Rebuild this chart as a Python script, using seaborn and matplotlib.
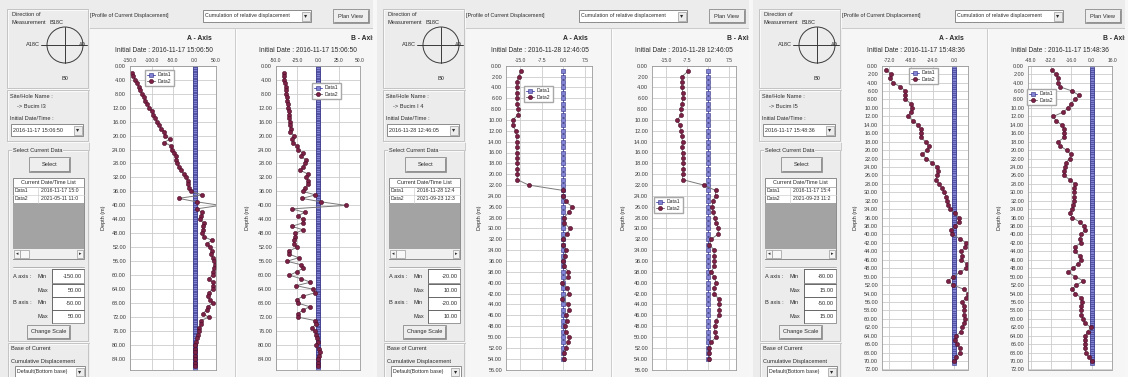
import numpy as np
import pandas as pd
import matplotlib
matplotlib.use('Agg')
import matplotlib.pyplot as plt
import seaborn as sns
from matplotlib.patches import Rectangle, Ellipse
from matplotlib.lines import Line2D
from matplotlib.ticker import FormatStrFormatter

sns.set_style('white')
plt.rcParams['font.family'] = ['Liberation Sans', 'DejaVu Sans']

# ---------------------------------------------------------------- data
site_names = ['-> Bucim I3', '-> Bucim I 4', '-> Bucim I5']
initial_dates = ['2016-11-17 15:06:50', '2016-11-28 12:46:05', '2016-11-17 15:48:36']
data1_dates = ['2016-11-17 15:0', '2016-11-28 12:4', '2016-11-17 15:4']
data2_dates = ['2021-05-11 11:0', '2021-09-23 12:3', '2021-09-23 11:2']
a_min_text = ['-150.00', '-20.00', '-80.00']
a_max_text = ['50.00', '10.00', '15.00']
b_min_text = ['-50.00', '-20.00', '-50.00']
b_max_text = ['50.00', '10.00', '15.00']

a_limits = [(-150, 50), (-20, 10), (-80, 15)]
b_limits = [(-50, 50), (-20, 10), (-50, 16)]
a_ticks = [[-150, -100, -50, 0, 50], [-15, -7.5, 0, 7.5], [-72, -48, -24, 0]]
b_ticks = [[-50, -25, 0, 25, 50], [-15, -7.5, 0, 7.5], [-48, -32, -16, 0, 16]]
depth_max = [87, 56, 72]
depth_tick_step = [4, 2, 2]

# Data1 (reference reading, zero displacement) stations
data1_depths = [np.arange(0.5, 86.6, 0.5), np.arange(1, 55, 1), np.arange(0.5, 70.6, 0.5)]

# Data2 stations (1 m) and readings
data2_depths = [np.arange(2, 87), np.arange(1, 55), np.arange(1, 71)]

p1_a = [-146, -142, -138, -134, -130, -127, -123, -118, -114, -110,
        -105, -100, -96, -92, -88, -83, -77, -70, -68, -58,
        -70, -54, -52, -47, -44, -42, -41, -36, -31, -25,
        -19, -16, -15, -13, -8, 18, -37, 6, 60, 5,
        17, 15, 12, 21, 20, 20, 17, 23, 40, 28,
        35, 40, 38, 42, 46, 48, 46, 42, 42, 33,
        42, 44, 42, 33, 31, 35, 42, 31, 28, 19,
        33, 15, 14, 11, 10, 8, 6, 4, 0, 2,
        1.5, 1, 1, 0, 0]
p1_b = [-41, -40, -40, -39, -38, -38, -38, -37, -37, -36,
        -36, -35, -34, -34, -33, -33, -32, -33, -29, -31,
        -30, -25, -24, -18, -20, -14, -16, -18, -21, -12,
        -14, -12, -12, -16, -18, -3, -19, 4, 33, -31,
        -16, -24, -18, -18, -31, -18, -27, -27, -28, -29,
        -25, -34, -34, -23, -37, -20, -18, -25, -34, -20,
        -9, -26, -6, -3, -18, -25, -24, -10, -18, -24,
        -24, -3, -2, -7, -4, -2, -1, 0, -2, 1,
        2, 1, 0, 0, 0]
p2_a = [-14.8, -15.6, -16.2, -16.2, -16.2, -16.3, -16.0, -15.7, -15.7, -17.6,
        -17.7, -16.6, -16.3, -16.2, -16.2, -16.2, -16.1, -16.0, -16.0, -16.0,
        -16.1, -12.1, 0.0, 0.0, 0.8, 3.0, 2.0, 0.2, 0.3, 2.3,
        1.3, 0.0, 0.0, 1.0, 0.5, 0.0, 0.3, 1.8, 1.8, -0.5,
        1.3, 2.0, -0.5, 1.8, 2.0, 1.1, 1.2, 0.7, 0.8, 2.0,
        1.8, 0.8, 0.2, 0.1]
p2_b = [-7.1, -9.3, -9.3, -9.3, -9.0, -8.9, -9.3, -9.8, -9.5, -10.9,
        -10.1, -9.5, -9.4, -9.1, -9.3, -9.1, -9.1, -8.8, -8.8, -9.0,
        -9.1, -1.5, 2.7, 2.7, 1.7, 1.5, 1.8, 2.4, 2.9, 3.7,
        3.7, 1.1, 0.5, 2.2, 2.2, 2.2, 2.2, 1.1, 2.2, 2.9,
        2.2, 2.2, 3.8, 3.9, 4.1, 3.8, 2.9, 2.4, 2.4, 2.9,
        1.1, 0.5, 0.5, 0.5]
p3_a = [-75.6, -70.0, -70.7, -68.1, -59.6, -54.4, -54.4, -54.1, -47.8, -47.0,
        -48.5, -51.5, -45.9, -40.4, -37.4, -37.4, -37.0, -31.9, -28.5, -30.0,
        -35.6, -31.1, -24.8, -18.9, -18.1, -18.9, -20.7, -17.0, -13.7, -11.5,
        -8.9, -7.8, -7.0, -4.4, 0.4, 5.2, 4.8, 1.1, -4.1, -2.2,
        5.9, 13.3, 11.5, 7.8, 8.5, 7.8, 14.1, 13.3, 5.9, -1.1,
        -7.0, -1.5, 10.7, 14.8, 13.3, 8.5, 10.7, 10.4, 10.4, 11.5,
        10.7, 8.5, 7.0, 2.2, 0.4, 3.3, 5.9, 5.9, 2.2, -0.4]
p3_b = [-31.3, -28.2, -26.7, -26.7, -24.9, -15.4, -10.0, -12.8, -16.4, -18.5,
        -22.3, -30.0, -28.2, -23.6, -21.5, -21.8, -21.5, -26.2, -24.9, -19.7,
        -16.4, -17.2, -20.3, -21.0, -21.8, -21.8, -17.2, -13.3, -13.8, -13.8,
        -13.8, -13.8, -14.6, -15.4, -17.2, -15.1, -9.5, -6.2, -5.6, -8.2,
        -9.5, -8.7, -13.3, -13.3, -9.5, -8.7, -10.8, -14.6, -18.5, -12.8,
        -6.4, -12.1, -15.4, -12.8, -8.2, -7.2, -8.2, -8.2, -8.2, -6.9,
        -5.6, -0.5, -3.1, -4.9, -5.6, -5.6, -5.6, -4.4, -2.3, 0.0]
data2_a = [p1_a, p2_a, p3_a]
data2_b = [p1_b, p2_b, p3_b]

# legend anchor (upper-left, panel pixel coords) for A / B charts
legend_a = [(145, 70), (148, 86), (157, 68)]
legend_b = [(312, 83), (278, 197), (275, 89)]

# ---------------------------------------------------------------- figure helpers
W, H = 1128, 377
fig = plt.figure(figsize=(W / 100, H / 100), dpi=100)
BG = '#ececec'
TXT = '#2b2b2b'


def R(x0, y0, x1, y1, fc='none', ec='none', lw=0.6, z=1):
    fig.add_artist(Rectangle((x0 / W, 1 - y1 / H), (x1 - x0) / W, (y1 - y0) / H,
                             transform=fig.transFigure, facecolor=fc, edgecolor=ec,
                             lw=lw, zorder=z))


def L(xs, ys, c='#808080', lw=0.6, z=2):
    fig.add_artist(Line2D([x / W for x in xs], [1 - y / H for y in ys],
                          transform=fig.transFigure, color=c, lw=lw, zorder=z))


def T(x, y, s, size=4.1, ha='left', va='center', z=3, **kw):
    kw.setdefault('color', TXT)
    fig.text(x / W, 1 - y / H, s, fontsize=size, ha=ha, va=va, zorder=z, **kw)


def G(x0, y0, x1, y1, label=None):
    R(x0 + 0.8, y0 + 0.8, x1 + 0.8, y1 + 0.8, ec='#ffffff', lw=0.5, z=0.5)
    R(x0, y0, x1, y1, ec='#bdbdbd', lw=0.6, z=1)
    if label:
        T(x0 + 5, y0, label, bbox=dict(fc=BG, ec='none', pad=0.4))


def BTN(x0, y0, x1, y1, label):
    R(x0, y0, x1, y1, fc='#eeeeee', ec='#8a8a8a', lw=0.6, z=1)
    L([x0 + 0.8, x1 - 0.8], [y1 - 0.9, y1 - 0.9], '#6a6a6a', 0.5)
    L([x1 - 0.9, x1 - 0.9], [y0 + 0.8, y1 - 0.8], '#6a6a6a', 0.5)
    T((x0 + x1) / 2, (y0 + y1) / 2, label, ha='center')


def DD(x0, y0, x1, y1, label, size=3.9):
    R(x0, y0, x1, y1, fc='white', ec='#7a7a7a', z=1)
    R(x1 - 9.5, y0 + 1.5, x1 - 1.5, y1 - 1.5, fc='#ececec', ec='#9a9a9a', lw=0.5, z=1.5)
    T(x1 - 5.5, (y0 + y1) / 2, '\u25BE', ha='center', size=4.5, family='DejaVu Sans')
    T(x0 + 2, (y0 + y1) / 2, label, size=size)


def ENT(x0, y0, x1, y1, val):
    R(x0, y0, x1, y1, fc='white', ec='#8a8a8a', z=1)
    L([x0, x1], [y0 + 0.4, y0 + 0.4], '#5a5a5a', 0.5)
    L([x0 + 0.4, x0 + 0.4], [y0, y1], '#5a5a5a', 0.5)
    T(x1 - 2, (y0 + y1) / 2, val, ha='right')


def style_axes(ax, xlim, xticks, dmax, dstep):
    ax.set_facecolor('white')
    ax.set_xlim(*xlim)
    ax.set_ylim(dmax, 0)
    ax.set_xticks(xticks)
    ax.set_yticks(np.arange(0, dmax + 0.01, dstep))
    ax.xaxis.set_major_formatter(FormatStrFormatter('%.1f'))
    ax.yaxis.set_major_formatter(FormatStrFormatter('%.2f'))
    ax.xaxis.tick_top()
    ax.tick_params(axis='x', length=0, pad=1.6, labelsize=3.6, colors='#3a3a3a')
    ax.tick_params(axis='y', length=0, pad=2.8, labelsize=4.0, colors='#3a3a3a')
    ax.grid(True, color='#cccccc', lw=0.6)
    ax.set_axisbelow(True)
    for s in ax.spines.values():
        s.set_color('#9a9a9a')
        s.set_linewidth(0.6)
    ax.set_xlabel('')
    ax.set_ylabel('')


def draw_profile(ax, d1, d2, vals):
    sns.lineplot(x=np.zeros(len(d1)), y=d1, orient='y', sort=False, estimator=None,
                 ax=ax, color='#5c5cb8', lw=0.7, marker='s', ms=3.0,
                 mfc='#8282d4', mec='#30307e', mew=0.4, label='Data1')
    sns.lineplot(x=vals, y=d2, orient='y', sort=False, estimator=None,
                 ax=ax, color='#7a7a7a', lw=0.7, marker='o', ms=3.0,
                 mfc='#7c2145', mec='#4a0f28', mew=0.4, label='Data2')


def add_legend(ax, pos):
    ax.legend(loc='upper left', bbox_to_anchor=(pos[0] / W, 1 - pos[1] / H),
              bbox_transform=fig.transFigure, fontsize=3.6, frameon=True,
              fancybox=False, edgecolor='#a8a8a8', framealpha=1,
              handlelength=1.6, borderpad=0.45, labelspacing=0.35,
              handletextpad=0.5, borderaxespad=0)


# ---------------------------------------------------------------- panels
for i in range(3):
    ox = 376 * i
    # backgrounds
    R(ox, 0, ox + 376, H, fc=BG, z=-10)
    R(ox + 89, 28, ox + 373, H + 2, fc='#f6f6f6', ec='#c4c4c4', lw=0.6, z=-9)
    L([ox + 235, ox + 235], [29, H], '#c4c4c4', 0.6, z=-8)
    L([ox + 236, ox + 236], [29, H], '#ffffff', 0.6, z=-8)

    # ---- left UI
    G(ox + 7, 9, ox + 88, 88)
    T(ox + 12, 15, 'Direction of')
    T(ox + 12, 22, 'Measurement')
    T(ox + 50, 22, 'B18C')
    fig.add_artist(Ellipse(((ox + 65) / W, 1 - 45 / H), 36 / W, 36 / H,
                           transform=fig.transFigure, fill=False, ec='#3a3a3a', lw=0.7, zorder=2))
    L([ox + 41, ox + 87], [45, 45], '#3a3a3a', 0.7)
    L([ox + 65, ox + 65], [27, 63], '#3a3a3a', 0.7)
    T(ox + 33, 45, 'A18C', ha='center')
    T(ox + 82, 44, 'A0', ha='center')
    T(ox + 65, 79, 'B0', ha='center')

    G(ox + 7, 90, ox + 88, 141)
    T(ox + 10, 97, 'Site/Hole Name :')
    T(ox + 17, 107, site_names[i])
    T(ox + 10, 118, 'Initial Date/Time :')
    DD(ox + 11, 124, ox + 83, 136, initial_dates[i])

    G(ox + 8, 150, ox + 88, 341, 'Select Current Data')
    BTN(ox + 29, 157, ox + 70, 172, 'Select')
    # table
    R(ox + 13, 178, ox + 84, 259, fc='white', ec='#7a7a7a', z=1)
    T(ox + 48.5, 182.5, 'Current Date/Time List', ha='center', size=4.0)
    L([ox + 13, ox + 84], [187, 187], '#9a9a9a', 0.5)
    L([ox + 13, ox + 84], [195, 195], '#d0d0d0', 0.5)
    L([ox + 38, ox + 38], [187, 203], '#d0d0d0', 0.5)
    T(ox + 15, 191, 'Data1', size=3.7)
    T(ox + 41, 191, data1_dates[i], size=3.7)
    T(ox + 15, 199, 'Data2', size=3.7)
    T(ox + 41, 199, data2_dates[i], size=3.7)
    R(ox + 13.3, 203, ox + 83.7, 249, fc='#a3a3a3', z=1.2)
    R(ox + 13.3, 249, ox + 83.7, 258.7, fc='#f0f0f0', z=1.2)
    R(ox + 14, 250, ox + 20, 258, fc='#f4f4f4', ec='#9a9a9a', lw=0.5, z=1.4)
    R(ox + 20, 250, ox + 29, 258, fc='#f8f8f8', ec='#9a9a9a', lw=0.5, z=1.4)
    R(ox + 77, 250, ox + 83, 258, fc='#f4f4f4', ec='#9a9a9a', lw=0.5, z=1.4)
    T(ox + 17, 254, '\u25C2', ha='center', size=3.5, family='DejaVu Sans')
    T(ox + 80, 254, '\u25B8', ha='center', size=3.5, family='DejaVu Sans')
    L([ox + 13, ox + 84], [266.5, 266.5], '#a8a8a8', 0.6)
    L([ox + 13, ox + 84], [267.5, 267.5], '#ffffff', 0.6)
    T(ox + 13, 276, 'A axis :')
    T(ox + 37, 276, 'Min')
    ENT(ox + 52, 269, ox + 84, 283, a_min_text[i])
    T(ox + 37, 290, 'Max')
    ENT(ox + 52, 284, ox + 84, 297, a_max_text[i])
    T(ox + 13, 302, 'B axis :')
    T(ox + 37, 302, 'Min')
    ENT(ox + 52, 297, ox + 84, 310, b_min_text[i])
    T(ox + 37, 316, 'Max')
    ENT(ox + 52, 310, ox + 84, 323, b_max_text[i])
    BTN(ox + 27, 325, ox + 70, 339, 'Change Scale')

    G(ox + 8, 343, ox + 88, H + 5)
    T(ox + 11, 349, 'Base of Current')
    T(ox + 11, 361, 'Cumulative Displacement')
    DD(ox + 15, 366, ox + 85, 377, 'Default(Bottom base)', size=3.8)

    # ---- header
    T(ox + 90, 16, '[Profile of Current Displacement]', size=3.9)
    DD(ox + 203, 10, ox + 311, 22, 'Cumulation of relative displacement', size=3.8)
    BTN(ox + 333, 9, ox + 369, 23, 'Plan View')

    # ---- chart titles
    T(ox + 199, 38, 'A - Axis', size=4.9, ha='center', weight='bold')
    T(ox + 351, 38, 'B - Axis', size=4.9, ha='left', weight='bold')
    T(ox + 164, 51, 'Initial Date : ' + initial_dates[i], size=4.8, ha='center')
    T(ox + 308, 51, 'Initial Date : ' + initial_dates[i], size=4.8, ha='center')
    T(ox + 103, 218, 'Depth (m)', size=4.0, ha='center', rotation=90)
    T(ox + 247, 218, 'Depth (m)', size=4.0, ha='center', rotation=90)

    # ---- axes
    top, bot = 65.7, 369.5
    axA = fig.add_axes([(ox + 130) / W, 1 - bot / H, 86 / W, (bot - top) / H])
    axB = fig.add_axes([(ox + 276) / W, 1 - bot / H, 84 / W, (bot - top) / H])
    draw_profile(axA, data1_depths[i], data2_depths[i], data2_a[i])
    draw_profile(axB, data1_depths[i], data2_depths[i], data2_b[i])
    style_axes(axA, a_limits[i], a_ticks[i], depth_max[i], depth_tick_step[i])
    style_axes(axB, b_limits[i], b_ticks[i], depth_max[i], depth_tick_step[i])
    add_legend(axA, (ox + legend_a[i][0], legend_a[i][1]))
    add_legend(axB, (ox + legend_b[i][0], legend_b[i][1]))

    # gap between screenshots
    R(ox + 373, 0, ox + 377, H, fc='#f7f7f7', z=20)

fig.savefig('out.png', dpi=100)
